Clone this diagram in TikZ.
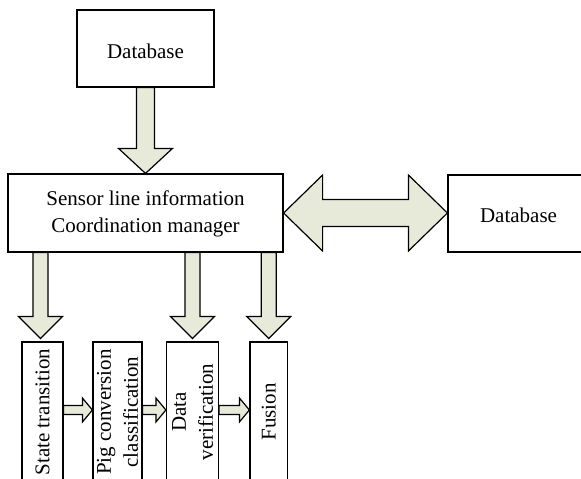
\documentclass[tikz,border=0pt]{standalone}
\usepackage{fontspec}
\setmainfont{Liberation Serif}
\usepackage{xcolor}
\usetikzlibrary{calc}

\definecolor{arrowfill}{RGB}{232,234,217}

\tikzset{
  box/.style={draw=black, line width=0.6pt, fill=white, inner sep=0pt},
  lowbox/.style={box, minimum height=70pt},
  blockfill/.style={draw=black, line width=0.6pt, fill=arrowfill, line join=miter},
  boxtext/.style={align=center, inner sep=0pt, font=\fontsize{10.5}{13.5}\selectfont}
}

% block arrow pointing down: from, to, shaft half width, head half width, head length
\newcommand{\downblock}[5]{%
  \draw[blockfill] let \p1=(#1), \p2=(#2) in
    (\x1-#3,\y1) -- (\x1-#3,\y2+#5) -- (\x1-#4,\y2+#5) -- (\x1,\y2)
    -- (\x1+#4,\y2+#5) -- (\x1+#3,\y2+#5) -- (\x1+#3,\y1) -- cycle;}

% block arrow pointing right: same arguments
\newcommand{\rightblock}[5]{%
  \draw[blockfill] let \p1=(#1), \p2=(#2) in
    (\x1,\y1+#3) -- (\x2-#5,\y1+#3) -- (\x2-#5,\y1+#4) -- (\x2,\y1)
    -- (\x2-#5,\y1-#4) -- (\x2-#5,\y1-#3) -- (\x1,\y1-#3) -- cycle;}

\begin{document}
\begin{tikzpicture}[x=0.5pt, y=-0.5pt]
  \clip (0,0) rectangle (581,478);

  % boxes
  \node[box, minimum width=68.5pt, minimum height=38.5pt] (db) at (145.5,48.5) {};
  \node[boxtext] (dbtext) at (145.5,51) {Database};
  \node[box, minimum width=137.5pt, minimum height=39pt] (mgr) at (145.5,213) {};
  \node[boxtext] (mgrtext) at (145.5,214) {Sensor line information\\Coordination manager};
  \node[box, minimum width=70.5pt, minimum height=38.5pt] (dbr) at (518.5,213.5) {};
  \node[boxtext] (dbrtext) at (518.5,215) {Database};

  % lower row
  \node[lowbox, minimum width=20.5pt] (st) at (42.5,412) {};
  \node[lowbox, minimum width=24.5pt] (pig) at (117.5,412) {};
  \node[lowbox, minimum width=26pt] (dv) at (192.5,412) {};
  \node[lowbox, minimum width=18.75pt] (fus) at (268.75,412) {};
  \node[boxtext, rotate=90] (sttext) at (st) {State transition};
  \node[boxtext, rotate=90] (pigtext) at (pig) {Pig conversion\\classification};
  \node[boxtext, rotate=90] (dvtext) at (dv) {Data\\verification};
  \node[boxtext, rotate=90] (fustext) at (fus) {Fusion};

  % fat arrows
  \downblock{db.south}{mgr.north}{4.5pt}{13.5pt}{12.5pt}
  \downblock{[xshift=-1pt]st.north |- mgr.south}{[yshift=1.5pt]st.north}{3.75pt}{11pt}{11pt}
  \downblock{dv.north |- mgr.south}{[yshift=1.5pt]dv.north}{3.75pt}{11pt}{11pt}
  \downblock{fus.north |- mgr.south}{[yshift=1.5pt]fus.north}{3.75pt}{11pt}{11pt}

  \rightblock{[yshift=1pt]st.east}{[yshift=1pt]pig.west}{2.25pt}{6pt}{5pt}
  \rightblock{[yshift=1pt]pig.east}{[yshift=1pt]dv.west}{2.25pt}{6pt}{5pt}
  \rightblock{[yshift=1pt]dv.east}{[yshift=1pt]fus.west}{2.25pt}{6pt}{5pt}

  % two-way arrow
  \draw[blockfill] let \p1=(mgr.east), \p2=(dbr.west) in
    (\x1,\y1) -- (\x1+19.5pt,\y1+19pt) -- (\x1+19.5pt,\y1+6.75pt)
    -- (\x2-19.5pt,\y1+6.75pt) -- (\x2-19.5pt,\y1+19pt) -- (\x2,\y1)
    -- (\x2-19.5pt,\y1-19pt) -- (\x2-19.5pt,\y1-6.75pt)
    -- (\x1+19.5pt,\y1-6.75pt) -- (\x1+19.5pt,\y1-19pt) -- cycle;
\end{tikzpicture}
\end{document}
